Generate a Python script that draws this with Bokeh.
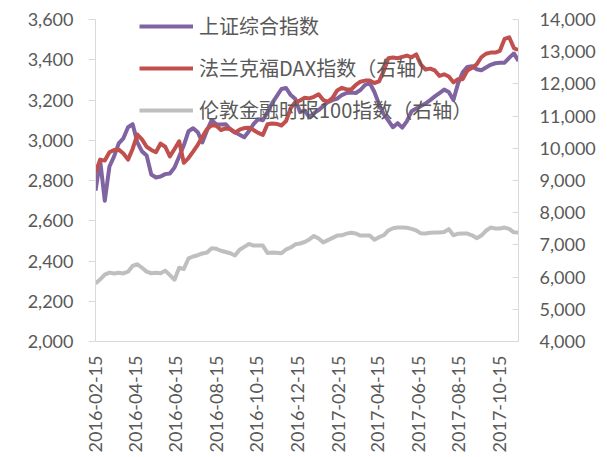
import math
import pandas as pd
from bokeh.plotting import figure
from bokeh.models import (Range1d, LinearAxis, FixedTicker, NumeralTickFormatter,
                          DatetimeTickFormatter, Legend, LegendItem)
from bokeh.embed import file_html
from bokeh.resources import INLINE

# Weekly closes, 2016-02-15 onwards
dates = pd.date_range("2016-02-15", periods=92, freq="7D")

shanghai = [2750, 2900, 2700, 2870, 2920, 2985, 3010, 3065, 3080, 2990,
            2945, 2925, 2830, 2815, 2820, 2832, 2835, 2865, 2920, 2975,
            3045, 3060, 3040, 2990, 3050, 3100, 3080, 3078, 3080, 3055,
            3040, 3028, 3015, 3045, 3080, 3105, 3100, 3140, 3185, 3220,
            3255, 3260, 3225, 3205, 3140, 3148, 3115, 3135, 3150, 3170,
            3190, 3200, 3207, 3225, 3235, 3237, 3235, 3250, 3275, 3285,
            3240, 3180, 3130, 3098, 3065, 3085, 3063, 3095, 3145, 3158,
            3170, 3183, 3200, 3218, 3235, 3252, 3240, 3200, 3283, 3338,
            3365, 3368, 3353, 3348, 3362, 3375, 3383, 3386, 3386, 3410,
            3432, 3395]

dax = [9250, 9650, 9620, 9880, 9950, 9960, 9840, 9650, 9990, 10430,
       10280, 10050, 9950, 9880, 10150, 10050, 9750, 9980, 10220, 9550,
       9700, 9900, 10110, 10360, 10600, 10720, 10700, 10570, 10620, 10600,
       10490, 10580, 10630, 10640, 10570, 10480, 10420, 10750, 10770, 10760,
       10710, 10850, 11250, 11440, 11484, 11570, 11550, 11600, 11680, 11500,
       11450, 11570, 11800, 11880, 11830, 11830, 11970, 12070, 12105, 12105,
       12030, 12080, 12400, 12800, 12820, 12800, 12840, 12882, 12830, 12920,
       12600, 12450, 12478, 12420, 12250, 12300, 12230, 12050, 12150, 12150,
       12416, 12500, 12610, 12830, 12940, 12975, 12975, 13030, 13400, 13450,
       13120, 13037]

ftse = [5800, 5930, 6080, 6140, 6115, 6135, 6115, 6170, 6350, 6400,
        6290, 6170, 6120, 6135, 6120, 6200, 6060, 5920, 6290, 6250,
        6580, 6640, 6680, 6735, 6765, 6900, 6880, 6820, 6780, 6740,
        6670, 6850, 6940, 7030, 6980, 6980, 6980, 6750, 6763, 6760,
        6740, 6860, 6920, 7020, 7045, 7090, 7170, 7280, 7200, 7080,
        7150, 7220, 7290, 7300, 7350, 7380, 7355, 7290, 7290, 7290,
        7160, 7240, 7300, 7450, 7520, 7540, 7539, 7535, 7500, 7450,
        7360, 7355, 7380, 7384, 7384, 7400, 7490, 7300, 7350, 7353,
        7353, 7300, 7210, 7290, 7440, 7539, 7510, 7508, 7539, 7500,
        7390, 7384]

x_tick_labels = ["2016-02-15", "2016-04-15", "2016-06-15", "2016-08-15",
                 "2016-10-15", "2016-12-15", "2017-02-15", "2017-04-15",
                 "2017-06-15", "2017-08-15", "2017-10-15"]
left_ticks = [2000, 2200, 2400, 2600, 2800, 3000, 3200, 3400, 3600]
right_ticks = [4000, 5000, 6000, 7000, 8000, 9000, 10000, 11000, 12000, 13000, 14000]

series_names = ["上证综合指数", "法兰克福DAX指数（右轴）", "伦敦金融时报100指数（右轴）"]
colors = ["#8064A2", "#C0504D", "#BFBFBF"]

AXIS_GRAY = "#D9D9D9"
TEXT_GRAY = "#595959"
NUM_FONT = "Lato"
CJK_FONT = "Noto Sans CJK SC"

# The frame reaches a little above the top tick so the legend has room;
# the axes themselves stop at their top tick via `bounds`.
LEFT_LO, LEFT_HI, LEFT_TOP = 2000, 3600, 3680
RIGHT_LO, RIGHT_HI = 4000, 14000
right_top = RIGHT_LO + (LEFT_TOP - LEFT_LO) * (RIGHT_HI - RIGHT_LO) / (LEFT_HI - LEFT_LO)

p = figure(width=607, height=457, x_axis_type="datetime",
           output_backend="svg", toolbar_location=None,
           x_range=Range1d(dates[0].to_pydatetime(), dates[-1].to_pydatetime()),
           y_range=Range1d(LEFT_LO, LEFT_TOP),
           min_border_left=95, min_border_right=89,
           min_border_top=3, min_border_bottom=116)
p.extra_y_ranges = {"right": Range1d(RIGHT_LO, right_top)}
p.xgrid.visible = False
p.ygrid.visible = False
p.outline_line_color = None
p.background_fill_color = "white"
p.border_fill_color = "white"

r_sh = p.line(dates, shanghai, line_color=colors[0], line_width=4, line_join="round")
r_dax = p.line(dates, dax, line_color=colors[1], line_width=4, line_join="round",
               y_range_name="right")
r_ftse = p.line(dates, ftse, line_color=colors[2], line_width=4, line_join="round",
                y_range_name="right")


def style_axis(ax):
    ax.axis_line_color = AXIS_GRAY
    ax.axis_line_width = 1
    ax.major_tick_line_color = AXIS_GRAY
    ax.minor_tick_line_color = None
    ax.major_label_text_color = TEXT_GRAY
    ax.major_label_text_font = NUM_FONT
    ax.major_label_text_font_size = "18px"


# left value axis
ly = p.yaxis[0]
ly.ticker = FixedTicker(ticks=left_ticks)
ly.formatter = NumeralTickFormatter(format="0,0")
ly.bounds = (LEFT_LO, LEFT_HI)
style_axis(ly)
ly.major_tick_out = 7
ly.major_tick_in = 0
ly.major_label_standoff = 15

# right value axis
ry = LinearAxis(y_range_name="right")
ry.ticker = FixedTicker(ticks=right_ticks)
ry.formatter = NumeralTickFormatter(format="0,0")
ry.bounds = (RIGHT_LO, RIGHT_HI)
style_axis(ry)
ry.major_tick_out = 0
ry.major_tick_in = 6
ry.major_label_standoff = 21
p.add_layout(ry, "right")

# date axis
tick_ms = [pd.Timestamp(d).value // 10**6 for d in x_tick_labels]
fmt = "%Y-%m-%d"
bx = p.xaxis[0]
bx.ticker = FixedTicker(ticks=tick_ms)
bx.formatter = DatetimeTickFormatter(days=fmt, months=fmt, years=fmt, hours=fmt,
                                     hourmin=fmt, minutes=fmt, minsec=fmt,
                                     seconds=fmt, milliseconds=fmt,
                                     microseconds=fmt, context=None)
style_axis(bx)
bx.major_tick_out = 0
bx.major_tick_in = 0
bx.major_label_orientation = math.pi / 2
bx.major_label_standoff = 14

legend = Legend(items=[LegendItem(label=series_names[0], renderers=[r_sh]),
                       LegendItem(label=series_names[1], renderers=[r_dax]),
                       LegendItem(label=series_names[2], renderers=[r_ftse])],
                location=(44, 217))
legend.background_fill_alpha = 0
legend.border_line_alpha = 0
legend.padding = 0
legend.margin = 0
legend.glyph_width = 54
legend.glyph_height = 20
legend.label_standoff = 6
legend.spacing = 13
legend.label_text_font = CJK_FONT
legend.label_text_font_size = "20px"
legend.label_text_color = TEXT_GRAY
p.add_layout(legend)

open("out.html", "w").write(file_html(p, INLINE))
